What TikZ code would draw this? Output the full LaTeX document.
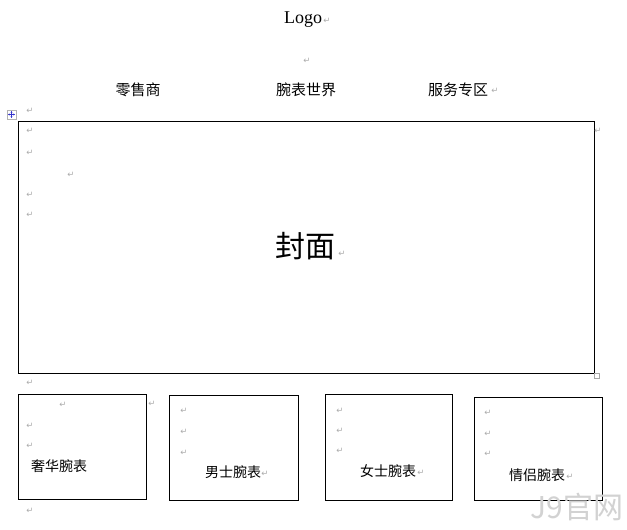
\documentclass[tikz,border=0pt]{standalone}
\usepackage{fontspec}
\usetikzlibrary{arrows.meta}
\setmainfont{Liberation Serif}
\newfontfamily\cjk{Noto Sans CJK SC}
\newfontfamily\symfont{DejaVu Sans}
\begin{document}
\begin{tikzpicture}[x=1pt,y=-1pt,
  ret/.style={text=gray!65, font=\symfont\fontsize{8.5}{8.5}\selectfont, inner sep=0pt},
  frame/.style={draw=black, line width=0.8pt},
  navtxt/.style={font=\cjk\fontsize{15}{15}\selectfont, inner sep=0pt},
  labtxt/.style={font=\cjk\fontsize{14}{14}\selectfont, inner sep=0pt, anchor=west}]
\useasboundingbox[fill=white] (0,0) rectangle (627,530);

% header
\node[font=\fontsize{18}{18}\selectfont, inner sep=0pt] (logo) at (303,20) {Logo};
\node[ret] (r0) at (327,21) {↵};
\node[ret] (r1) at (307,61) {↵};
\node[navtxt] (n1) at (138,90) {零售商};
\node[navtxt] (n2) at (306,90) {腕表世界};
\node[navtxt] (n3) at (458,90) {服务专区};
\node[ret] (r2) at (495,91) {↵};

% table move handle
\node[draw=gray!60, fill=white, minimum size=9pt, inner sep=0pt] (handle) at (11.5,114.5) {};
\draw[blue!60!gray, line width=0.6pt, <->, >={Stealth[length=1.6pt,width=2pt]}] (8,114.5) -- (15,114.5);
\draw[blue!60!gray, line width=0.6pt, <->, >={Stealth[length=1.6pt,width=2pt]}] (11.5,111) -- (11.5,118);
\node[ret] (r3) at (30,111) {↵};

% cover box
\draw[frame] (18,121) rectangle (594,373);
\node[ret] (c1) at (30,131) {↵};
\node[ret] (c2) at (30,153) {↵};
\node[ret] (c3) at (71,175) {↵};
\node[ret] (c4) at (30,195) {↵};
\node[ret] (c5) at (30,215) {↵};
\node[font=\cjk\fontsize{30}{30}\selectfont, inner sep=0pt] (cover) at (305,246) {封面};
\node[ret] (c6) at (342,254) {↵};
\node[ret] (r4) at (598,131) {↵};
\draw[gray!70, line width=0.5pt, fill=white] (594,373) rectangle (599,378);
\node[ret] (r5) at (30,383) {↵};

% small boxes
\draw[frame] (18,394) rectangle (146,499);
\node[ret] (a1) at (63,405) {↵};
\node[ret] (a2) at (30,426) {↵};
\node[ret] (a3) at (30,446) {↵};
\node[labtxt] (lux) at (31,466) {奢华腕表};
\node[ret] (a4) at (152,404) {↵};

\draw[frame] (169,395) rectangle (298,500);
\node[ret] (b1) at (184,411) {↵};
\node[ret] (b2) at (184,432) {↵};
\node[ret] (b3) at (184,453) {↵};
\node[labtxt] (men) at (205,472) {男士腕表};
\node[ret] (b4) at (265,474) {↵};

\draw[frame] (325,394) rectangle (452,500);
\node[ret] (d1) at (340,411) {↵};
\node[ret] (d2) at (340,431) {↵};
\node[ret] (d3) at (340,451) {↵};
\node[labtxt] (women) at (360,471) {女士腕表};
\node[ret] (d4) at (421,473) {↵};

\draw[frame] (474,397) rectangle (602,500);
\node[ret] (e1) at (488,413) {↵};
\node[ret] (e2) at (488,434) {↵};
\node[ret] (e3) at (488,454) {↵};
\node[labtxt] (couple) at (509,475) {情侣腕表};
\node[ret] (e4) at (570,477) {↵};

\node[ret] (r6) at (30,511) {↵};

% watermark
\node[font=\cjk\fontsize{30}{30}\selectfont, text=gray!35, inner sep=0pt] (wm) at (577,507) {J9官网};
\end{tikzpicture}
\end{document}
